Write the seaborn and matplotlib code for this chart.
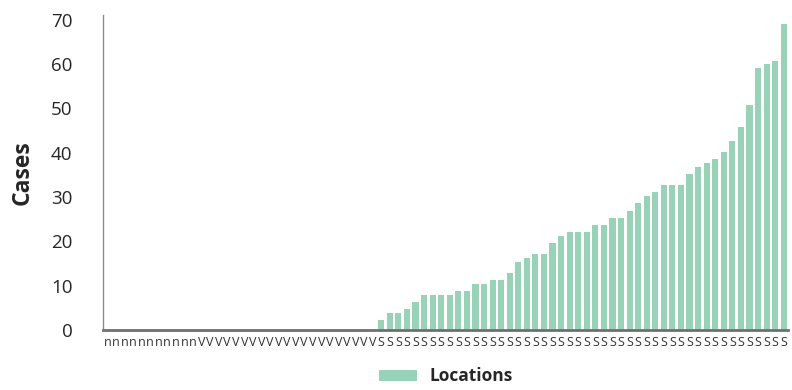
import matplotlib
matplotlib.use("Agg")
import matplotlib.pyplot as plt
import seaborn as sns
import pandas as pd
from matplotlib.patches import Patch

# Category tick letters per location group
group_letters = ["n"] * 11 + ["V"] * 21 + ["S"] * 48

# Case counts per location (zeros for the first 32 locations)
cases = [0] * 32 + [
    2.3, 3.8, 3.8, 4.7, 6.3, 7.9, 7.9, 7.9, 7.9, 8.8,
    8.8, 10.4, 10.4, 11.3, 11.3, 12.9, 15.3, 16.2, 17.2, 17.2,
    19.6, 21.2, 22.1, 22.1, 22.1, 23.7, 23.7, 25.3, 25.3, 26.9,
    28.7, 30.2, 31.2, 32.7, 32.7, 32.7, 35.2, 36.8, 37.7, 38.6,
    40.2, 42.7, 45.8, 50.8, 59.1, 60.0, 60.7, 69.1,
]

y_ticks = [0, 10, 20, 30, 40, 50, 60, 70]

location_ids = [f"loc{i:02d}" for i in range(len(cases))]
df = pd.DataFrame({"location": location_ids, "cases": cases})

sns.set_theme(style="white")
plt.rcParams["font.family"] = ["Open Sans", "DejaVu Sans"]

bar_color = "#99D3B7"
text_color = "#262626"

fig = plt.figure(figsize=(7.92, 3.90), dpi=100)
ax = fig.add_axes([103 / 792, 60 / 390, 685 / 792, 315 / 390])

sns.barplot(data=df, x="location", y="cases", color=bar_color,
            width=0.72, saturation=1, linewidth=0, ax=ax)

ax.set_xlim(-0.5, len(cases) - 0.5)
ax.set_ylim(0, 71.1)
ax.set_yticks(y_ticks)
ax.set_yticklabels([str(t) for t in y_ticks], fontsize=13.5, color=text_color)
ax.set_xticks(range(len(cases)))
ax.set_xticklabels(group_letters, fontsize=9, color="#333333")
ax.tick_params(axis="both", length=0)
ax.tick_params(axis="y", pad=22)
ax.tick_params(axis="x", pad=4)

ax.set_xlabel("")
ax.set_ylabel("Cases", fontsize=16.5, fontweight="bold", color=text_color, labelpad=12)

for side in ["top", "right"]:
    ax.spines[side].set_visible(False)
ax.spines["left"].set_color("#8c8c8c")
ax.spines["left"].set_linewidth(1.0)
ax.spines["bottom"].set_color("#707070")
ax.spines["bottom"].set_linewidth(2.0)

handle = Patch(facecolor=bar_color, edgecolor="none")
ax.legend([handle], ["Locations"], loc="upper center",
          bbox_to_anchor=(0.5, -0.08), frameon=False,
          prop={"size": 12.5, "weight": "bold"}, handlelength=2.2,
          handleheight=0.6, handletextpad=0.7, borderpad=0.2)
leg = ax.get_legend()
for t in leg.get_texts():
    t.set_color(text_color)

fig.savefig("out.png", dpi=100)
